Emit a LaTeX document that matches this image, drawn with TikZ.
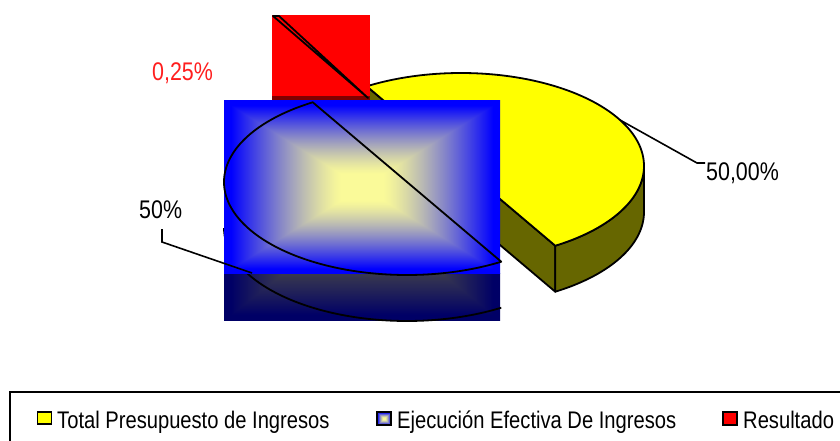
\documentclass[tikz,border=0pt]{standalone}
\usepackage{fontspec}
\newfontfamily\lblfont[FakeStretch=0.84]{Liberation Sans}
\pgfdeclarefunctionalshading{boxgrad}{\pgfpoint{-50bp}{-50bp}}{\pgfpoint{50bp}{50bp}}{}{
  abs exch abs 2 copy lt {exch} if pop 25 div
  0.15 sub 0.8 div dup 0 lt {pop 0} if dup 1 gt {pop 1} if 1.3 exp
  dup 1 exch sub 0.98 mul
  exch dup 1 exch sub 0.98 mul
  exch 0.4 mul 0.6 add
}
\pgfdeclarefunctionalshading{darkboxgrad}{\pgfpoint{-50bp}{-50bp}}{\pgfpoint{50bp}{50bp}}{}{
  abs exch abs 2 copy lt {exch} if pop 25 div
  0.15 sub 0.8 div dup 0 lt {pop 0} if dup 1 gt {pop 1} if 1.3 exp
  dup 1 exch sub 0.39 mul
  exch dup 1 exch sub 0.39 mul
  exch 0.16 mul 0.24 add
}
\definecolor{olivec}{RGB}{102,102,0}
\definecolor{darkredc}{RGB}{128,0,0}
\definecolor{labelred}{RGB}{255,30,30}
\definecolor{pureyellow}{RGB}{255,255,0}
\begin{document}
\begin{tikzpicture}[x=1pt,y=-1pt,
  edge/.style={draw=black,line width=1.8pt,line join=round},
  lbl/.style={inner sep=0pt,anchor=base west,font=\lblfont\fontsize{25.5}{30}\selectfont},
  leg/.style={inner sep=0pt,anchor=base west,font=\lblfont\fontsize{24}{28}\selectfont},
  legmark/.style={draw=black,line width=1.6pt},
  leader/.style={draw=black,line width=1.6pt}]
\useasboundingbox (0,0) rectangle (840,441);
% ---- yellow slice (Total Presupuesto) ----
\filldraw[edge,fill=olivec] (366.75,86.28) -- (555.25,245.72) -- (555.25,291.72) -- (366.75,132.28) -- cycle;
\filldraw[edge,fill=olivec] plot[domain=-59:0,samples=40] ({461+183*cos(\x)},{166-93*sin(\x)})
  -- plot[domain=0:-59,samples=40] ({461+183*cos(\x)},{212-93*sin(\x)}) -- cycle;
\filldraw[edge,fill=pureyellow] plot[domain=-59:121,samples=140] ({461+183*cos(\x)},{166-93*sin(\x)}) -- cycle;
% ---- red slice (Resultado) ----
\fill[red] (272,15) rectangle (370,100);
\fill[darkredc] (272,96) rectangle (370,100);
\filldraw[edge,fill=red] (368,98) -- (273,16) -- (279,16) -- cycle;
% ---- blue slice (Ejecucion) ----
\begin{scope}
  \clip (224,273) rectangle (500,320);
  \shade[shading=darkboxgrad] (224,101) rectangle (500,320);
\end{scope}
\draw[edge] plot[domain=180:301,samples=80] ({407+183*cos(\x)},{228-93*sin(\x)});
\shade[shading=boxgrad] (224,101) rectangle (500,273);
\draw[edge] plot[domain=121:301,samples=140] ({407+183*cos(\x)},{182-93*sin(\x)}) -- cycle;
% ---- labels ----
\node[lbl,text=labelred] (lres) at (152,81) {0,25\%};
\node[lbl] (leje) at (139,218) {50\%};
\node[lbl] (ltot) at (706,180) {50,00\%};
\coordinate (ya) at (620,120);
\coordinate (yb) at (697,163);
\coordinate (yc) at (705,163);
\draw[leader] (ya) -- (yb) -- (yc);
\coordinate (ba) at (162,229);
\coordinate (bb) at (162,242);
\coordinate (bc) at (252,273);
\draw[leader] (ba) -- (bb) -- (bc);
% ---- legend ----
\draw[line width=1.5pt] (10,392) rectangle (860,470);
\filldraw[legmark,fill=pureyellow] (37.5,412) rectangle (51.5,424);
\node[leg] (t1) at (57,428) {Total Presupuesto de Ingresos};
\shade[shading=boxgrad] (377,412) rectangle (391,425);
\draw[legmark] (377,412) rectangle (391,425);
\node[leg] (t2) at (397,428) {Ejecución Efectiva De Ingresos};
\filldraw[legmark,fill=red] (723,412) rectangle (737,425);
\node[leg] (t3) at (743,428) {Resultado};
\end{tikzpicture}
\end{document}
